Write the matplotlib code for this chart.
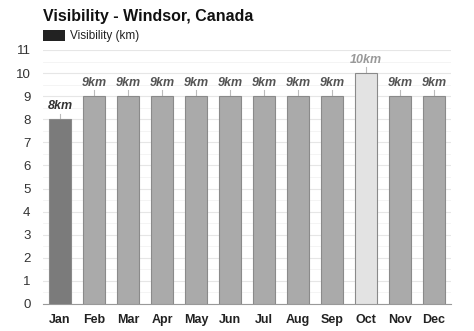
import matplotlib.pyplot as plt
import matplotlib.patches as mpatches
from matplotlib.ticker import MultipleLocator

plt.rcParams['font.family'] = ['Liberation Sans', 'DejaVu Sans']

months = ['Jan', 'Feb', 'Mar', 'Apr', 'May', 'Jun', 'Jul', 'Aug', 'Sep', 'Oct', 'Nov', 'Dec']
visibility = [8, 9, 9, 9, 9, 9, 9, 9, 9, 10, 9, 9]
bar_colors = ['#7b7b7b'] + ['#aaaaaa'] * 8 + ['#e3e3e3'] + ['#aaaaaa'] * 2
label_colors = ['#333333'] + ['#555555'] * 8 + ['#999999'] + ['#555555'] * 2

fig = plt.figure(figsize=(4.74, 3.31), dpi=100)
ax = fig.add_axes([43 / 474, 27 / 331, 408 / 474, 254 / 331])

x = range(len(months))
ax.bar(x, visibility, width=0.62, color=bar_colors, edgecolor='#8a8a8a', linewidth=0.8, zorder=3)

for i, v in enumerate(visibility):
    ax.plot([i, i], [v, v + 0.25], color='#bbbbbb', linewidth=0.8, zorder=2)
    ax.text(i, v + 0.3, f'{v}km', ha='center', va='bottom', fontsize=9,
            fontweight='bold', fontstyle='italic', color=label_colors[i])

ax.set_xlim(-0.5, 11.5)
ax.set_ylim(0, 11)
ax.yaxis.set_major_locator(MultipleLocator(1))
ax.yaxis.set_minor_locator(MultipleLocator(0.5))
ax.grid(axis='y', which='major', color='#e6e6e6', linewidth=0.8, zorder=0)
ax.grid(axis='y', which='minor', color='#f3f3f3', linewidth=0.6, zorder=0)
ax.set_xticks(list(x))
ax.set_xticklabels(months, fontsize=9, fontweight='bold', color='#222222')
ax.tick_params(axis='y', labelsize=9.5, labelcolor='#333333', length=0, pad=9, which='both')
ax.tick_params(axis='x', length=0, pad=7)
for side in ['top', 'right', 'left']:
    ax.spines[side].set_visible(False)
ax.spines['bottom'].set_color('#999999')
ax.set_axisbelow(True)

fig.text(43 / 474, 1 - 16 / 331, 'Visibility - Windsor, Canada', fontsize=11.5,
         fontweight='bold', color='#111111', va='center')
fig.patches.append(mpatches.Rectangle((43 / 474, 1 - 41 / 331), 22 / 474, 11 / 331,
                                      transform=fig.transFigure, facecolor='#222222',
                                      edgecolor='none'))
fig.text(70 / 474, 1 - 35.5 / 331, 'Visibility (km)', fontsize=8.5, color='#222222', va='center')

fig.savefig('out.png', dpi=100, facecolor='white')
